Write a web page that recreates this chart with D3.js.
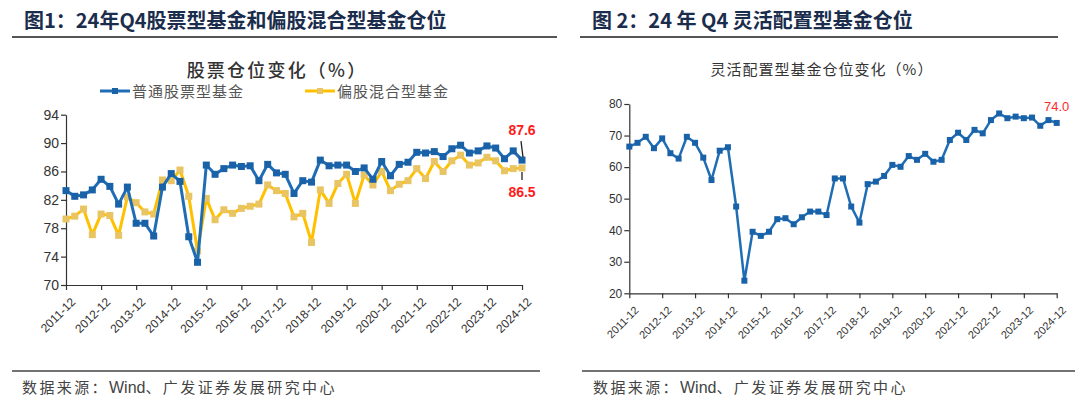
<!DOCTYPE html>
<html><head><meta charset="utf-8">
<script src="https://cdn.jsdelivr.net/npm/d3@7"></script>
<style>
html,body{margin:0;padding:0;background:#fff;}
svg{display:block;}
</style></head>
<body>
<svg id="c" width="1080" height="405"></svg>
<script>
// ---------- data ----------
const quarters = [];
for (let y = 2011; y <= 2024; y++) {
  ["03","06","09","12"].forEach(m => { const k = y + "-" + m; if (k >= "2011-12") quarters.push(k); });
}
const yearTicks = ["2011-12","2012-12","2013-12","2014-12","2015-12","2016-12","2017-12","2018-12","2019-12","2020-12","2021-12","2022-12","2023-12","2024-12"];
const stockFund = [83.3,82.5,82.7,83.4,84.9,83.9,81.4,83.8,78.7,78.7,76.9,83.8,85.7,84.6,76.8,73.2,
  86.9,85.6,86.4,86.9,86.7,86.8,84.7,87.0,85.8,85.6,82.9,84.7,84.5,87.6,86.8,86.9,86.9,86.0,86.5,84.9,
  87.4,85.4,87.0,87.3,88.7,88.6,88.8,88.1,89.2,89.7,88.6,88.9,89.6,89.3,87.8,88.9,87.6];
const mixedFund = [79.3,79.7,80.7,77.1,80.0,79.8,77.0,82.4,81.6,80.3,80.0,84.8,84.7,86.2,82.5,74.8,
  82.2,79.2,80.6,80.1,80.8,81.1,81.4,84.1,83.3,82.9,79.6,80.1,76.0,83.4,81.5,84.3,85.6,81.5,85.5,84.1,
  86.0,83.3,84.2,84.7,86.4,85.0,87.4,86.0,87.5,88.3,86.9,87.2,88.0,87.5,86.1,86.4,86.5];
const flexFund = [66.5,67.7,69.6,66.0,69.1,64.4,62.7,69.6,67.7,63.0,55.9,65.2,66.3,47.5,24.0,39.5,
  38.2,39.5,43.5,43.8,41.9,44.1,45.9,45.9,44.8,56.4,56.4,47.5,42.4,54.6,55.4,57.2,60.7,60.1,63.5,62.3,
  64.2,61.7,62.3,68.6,70.9,68.6,71.8,70.7,74.9,77.0,75.5,76.0,75.5,75.7,73.1,74.9,74.0];
const leftYTicks = [70,74,78,82,86,90,94];
const rightYTicks = [20,30,40,50,60,70,80];
const leftSeriesNames = ["普通股票型基金","偏股混合型基金"];

// ---------- styles ----------
const CJK = "'Noto Sans CJK SC', sans-serif";
const LAT = "'Liberation Sans', Arial, sans-serif";
const BLUE = "#1f6db4", BLUE_M = "#1a62a8";
const YEL = "#ffc000", YEL_M = "#e8c462";
const svg = d3.select("#c");

// ---------- header / footer ----------
function header(x, text, lx1, lx2) {
  svg.append("text").attr("x", x).attr("y", 28).attr("font-family", CJK)
    .attr("font-weight", "bold").attr("font-size", 20).attr("fill", "#1b2d4c").text(text);
  svg.append("line").attr("x1", lx1).attr("x2", lx2).attr("y1", 37).attr("y2", 37)
    .attr("stroke", "#555").attr("stroke-width", 2);
}
header(24, "图1：24年Q4股票型基金和偏股混合型基金仓位", 12, 557);
header(592, "图 2：24 年 Q4 灵活配置型基金仓位", 580, 1058);
function footer(x, lx1, lx2) {
  svg.append("line").attr("x1", lx1).attr("x2", lx2).attr("y1", 371).attr("y2", 371)
    .attr("stroke", "#444").attr("stroke-width", 1.5);
  const t = svg.append("text").attr("x", x).attr("y", 393).attr("font-family", CJK).attr("font-size", 15)
    .attr("fill", "#444");
  t.append("tspan").attr("letter-spacing", 2.4).text("数据来源：");
  t.append("tspan").attr("font-family", LAT).attr("font-size", 16).text("Wind");
  t.append("tspan").attr("letter-spacing", 2.4).text("、广发证券发展研究中心");
}
footer(22, 12, 540);
footer(593, 582, 1075);

// ---------- chart builder ----------
function chart(opt) {
  const x = d3.scalePoint().domain(quarters).range([opt.x0, opt.x1]);
  const y = d3.scaleLinear().domain(opt.yDomain).range([opt.yBottom, opt.yTop]);
  const g = svg.append("g");
  const xa = g.append("g").attr("transform", `translate(0,${opt.yBottom})`)
    .call(d3.axisBottom(x).tickValues(yearTicks).tickSize(5).tickSizeOuter(0));
  xa.select(".domain").attr("stroke", "#333").attr("stroke-width", 1.2);
  xa.selectAll(".tick line").attr("stroke", "#333").attr("stroke-width", 1.2);
  xa.selectAll("text").attr("font-family", LAT).attr("font-size", opt.xFont).attr("fill", "#333")
    .attr("text-anchor", "end").attr("dx", 0).attr("dy", 0)
    .attr("transform", "translate(4,12) rotate(-45)");
  const ya = g.append("g").attr("transform", `translate(${opt.x0},0)`)
    .call(d3.axisLeft(y).tickValues(opt.yTicks).tickSize(5).tickSizeOuter(0));
  ya.select(".domain").attr("stroke", "#333").attr("stroke-width", 1.2);
  ya.selectAll(".tick line").attr("stroke", "#333").attr("stroke-width", 1.2);
  ya.selectAll("text").attr("font-family", LAT).attr("font-size", opt.yFont).attr("fill", "#333").attr("x", -7);
  opt.series.forEach(s => {
    const line = d3.line().x((d, i) => x(quarters[i])).y(d => y(d));
    g.append("path").datum(s.values).attr("d", line).attr("fill", "none")
      .attr("stroke", s.color).attr("stroke-width", opt.lw).attr("stroke-linejoin", "round");
    g.selectAll(null).data(s.values).enter().append("rect")
      .attr("x", (d, i) => x(quarters[i]) - opt.ms / 2).attr("y", d => y(d) - opt.ms / 2)
      .attr("width", opt.ms).attr("height", opt.ms).attr("fill", s.marker);
  });
  return {x, y, g};
}

// ---------- left chart ----------
const L = chart({x0: 66, x1: 522, yTop: 114.7, yBottom: 285, yDomain: [70, 94], yTicks: leftYTicks,
  xFont: 12, yFont: 14, lw: 3, ms: 7,
  series: [{values: mixedFund, color: YEL, marker: YEL_M}, {values: stockFund, color: BLUE, marker: BLUE_M}]});
svg.append("text").attr("x", 277).attr("y", 77).attr("text-anchor", "middle").attr("font-family", CJK)
  .attr("font-size", 18).attr("font-weight", 500).attr("letter-spacing", 2.2).attr("fill", "#333").text("股票仓位变化（%）");
[[100, BLUE, BLUE_M, leftSeriesNames[0]], [305, YEL, YEL_M, leftSeriesNames[1]]].forEach(([lx, c, m, t]) => {
  svg.append("line").attr("x1", lx).attr("x2", lx + 30).attr("y1", 91).attr("y2", 91).attr("stroke", c).attr("stroke-width", 3);
  svg.append("rect").attr("x", lx + 12).attr("y", 88).attr("width", 6).attr("height", 6).attr("fill", m);
  svg.append("text").attr("x", lx + 32).attr("y", 96.5).attr("font-family", CJK).attr("font-size", 15)
    .attr("letter-spacing", 1).attr("fill", "#555").text(t);
});
const lastQ = quarters[quarters.length - 1];
const lx = L.x(lastQ);
const bLast = stockFund[stockFund.length - 1], yLast = mixedFund[mixedFund.length - 1];
svg.append("line").attr("x1", lx - 1).attr("x2", lx + 1).attr("y1", L.y(bLast) - 19).attr("y2", L.y(bLast) - 3)
  .attr("stroke", "#222").attr("stroke-width", 1.3);
svg.append("line").attr("x1", lx).attr("x2", lx).attr("y1", L.y(yLast) + 4).attr("y2", L.y(yLast) + 12)
  .attr("stroke", "#222").attr("stroke-width", 1.3);
svg.append("text").attr("x", lx).attr("y", L.y(bLast) - 25).attr("text-anchor", "middle").attr("font-family", LAT)
  .attr("font-weight", "bold").attr("font-size", 14).attr("fill", "#ff1a1a").text(bLast.toFixed(1));
svg.append("text").attr("x", lx).attr("y", L.y(yLast) + 29).attr("text-anchor", "middle").attr("font-family", LAT)
  .attr("font-weight", "bold").attr("font-size", 14).attr("fill", "#ff1a1a").text(yLast.toFixed(1));

// ---------- right chart ----------
const R = chart({x0: 629.3, x1: 1056.7, yTop: 104, yBottom: 293.3, yDomain: [20, 80], yTicks: rightYTicks,
  xFont: 11, yFont: 12, lw: 2.5, ms: 6,
  series: [{values: flexFund, color: BLUE, marker: BLUE_M}]});
svg.append("text").attr("x", 822).attr("y", 75).attr("text-anchor", "middle").attr("font-family", CJK)
  .attr("font-size", 15).attr("letter-spacing", 1).attr("fill", "#333").text("灵活配置型基金仓位变化（%）");
const fLast = flexFund[flexFund.length - 1];
svg.append("text").attr("x", R.x(lastQ)).attr("y", R.y(fLast) - 12).attr("text-anchor", "middle").attr("font-family", LAT)
  .attr("font-size", 13).attr("fill", "#ff2a2a").text(fLast.toFixed(1));
</script>
</body></html>
